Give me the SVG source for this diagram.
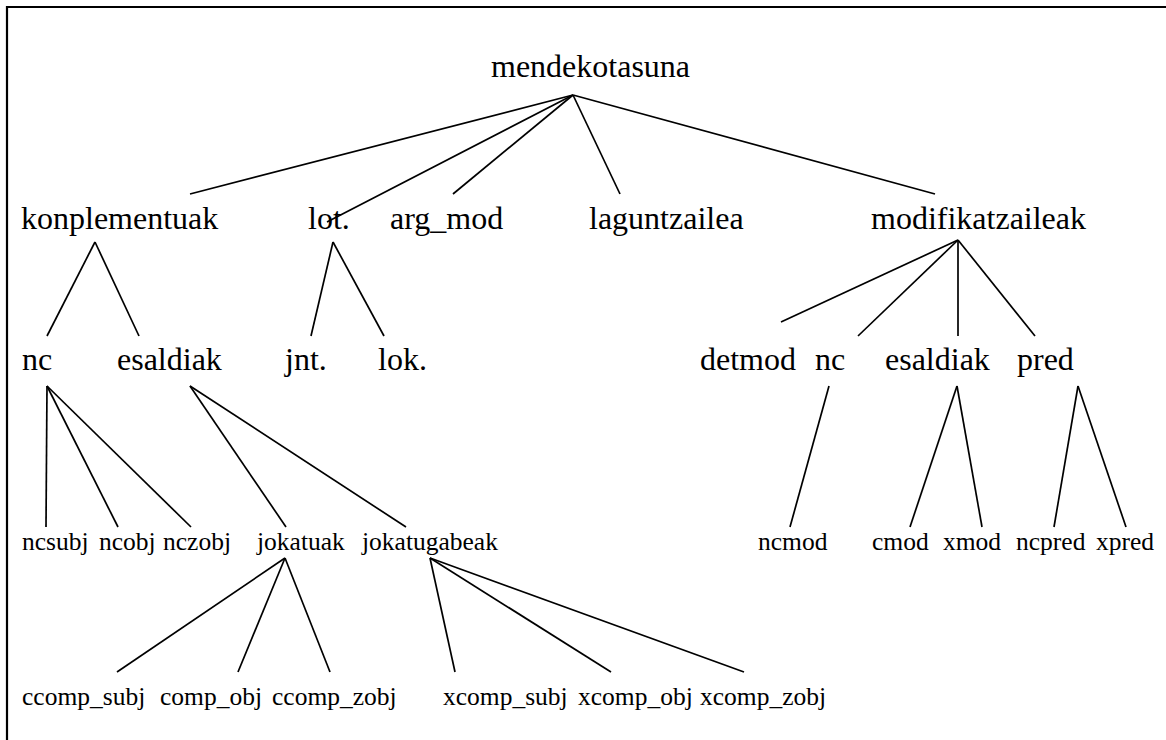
<svg xmlns="http://www.w3.org/2000/svg" width="1166" height="740" viewBox="0 0 1166 740">
<style>
text{font-family:"Liberation Serif","Times New Roman",serif;fill:#000}
.l{font-size:32px}
.s{font-size:25.5px}
#edges line{stroke:#000;stroke-width:1.7}
</style>
<rect width="1166" height="740" fill="#fff"/>
<path d="M7,740 V7 H1166" fill="none" stroke="#000" stroke-width="2.2"/>
<g id="edges">
<line x1="573" y1="95" x2="190" y2="194"/>
<line x1="573" y1="95" x2="327" y2="222"/>
<line x1="573" y1="95" x2="453" y2="194"/>
<line x1="573" y1="95" x2="620" y2="194"/>
<line x1="573" y1="95" x2="935" y2="194"/>
<line x1="95" y1="242" x2="47" y2="336"/>
<line x1="95" y1="242" x2="139" y2="336"/>
<line x1="333" y1="242" x2="311" y2="336"/>
<line x1="333" y1="242" x2="384" y2="336"/>
<line x1="958" y1="240" x2="781" y2="322"/>
<line x1="958" y1="240" x2="858" y2="336"/>
<line x1="958" y1="240" x2="958" y2="336"/>
<line x1="958" y1="240" x2="1035" y2="336"/>
<line x1="47" y1="386" x2="46" y2="527"/>
<line x1="47" y1="386" x2="118" y2="527"/>
<line x1="47" y1="386" x2="191" y2="527"/>
<line x1="190" y1="386" x2="286" y2="527"/>
<line x1="190" y1="386" x2="406" y2="527"/>
<line x1="829" y1="386" x2="790" y2="527"/>
<line x1="957" y1="386" x2="910" y2="527"/>
<line x1="957" y1="386" x2="982" y2="527"/>
<line x1="1078" y1="386" x2="1054" y2="527"/>
<line x1="1078" y1="386" x2="1126" y2="527"/>
<line x1="285" y1="558" x2="117" y2="672"/>
<line x1="285" y1="558" x2="238" y2="672"/>
<line x1="285" y1="558" x2="330" y2="672"/>
<line x1="430" y1="558" x2="455" y2="672"/>
<line x1="430" y1="558" x2="611" y2="672"/>
<line x1="430" y1="558" x2="744" y2="672"/>
</g>
<g id="n-mendekotasuna"><text class="l" x="491" y="77">mendekotasuna</text></g>
<g id="n-konplementuak"><text class="l" x="21" y="229">konplementuak</text></g>
<g id="n-lot"><text class="l" x="308" y="229">lot.</text></g>
<g id="n-arg_mod"><text class="l" x="390" y="229">arg_mod</text></g>
<g id="n-laguntzailea"><text class="l" x="589" y="229">laguntzailea</text></g>
<g id="n-modifikatzaileak"><text class="l" x="871" y="229">modifikatzaileak</text></g>
<g id="n-nc1"><text class="l" x="22" y="370">nc</text></g>
<g id="n-esaldiak1"><text class="l" x="117" y="370">esaldiak</text></g>
<g id="n-jnt"><text class="l" x="285" y="370">jnt.</text></g>
<g id="n-lok"><text class="l" x="378" y="370">lok.</text></g>
<g id="n-detmod"><text class="l" x="700" y="370">detmod</text></g>
<g id="n-nc2"><text class="l" x="815" y="370">nc</text></g>
<g id="n-esaldiak2"><text class="l" x="885" y="370">esaldiak</text></g>
<g id="n-pred"><text class="l" x="1017" y="370">pred</text></g>
<g id="n-ncsubj"><text class="s" x="22" y="550">ncsubj</text></g>
<g id="n-ncobj"><text class="s" x="99" y="550">ncobj</text></g>
<g id="n-nczobj"><text class="s" x="163" y="550">nczobj</text></g>
<g id="n-jokatuak"><text class="s" x="257" y="550">jokatuak</text></g>
<g id="n-jokatugabeak"><text class="s" x="362" y="550">jokatugabeak</text></g>
<g id="n-ncmod"><text class="s" x="758" y="550">ncmod</text></g>
<g id="n-cmod"><text class="s" x="872" y="550">cmod</text></g>
<g id="n-xmod"><text class="s" x="943" y="550">xmod</text></g>
<g id="n-ncpred"><text class="s" x="1016" y="550">ncpred</text></g>
<g id="n-xpred"><text class="s" x="1096" y="550">xpred</text></g>
<g id="n-ccomp_subj"><text class="s" x="22" y="705">ccomp_subj</text></g>
<g id="n-comp_obj"><text class="s" x="160" y="705">comp_obj</text></g>
<g id="n-ccomp_zobj"><text class="s" x="272" y="705">ccomp_zobj</text></g>
<g id="n-xcomp_subj"><text class="s" x="443" y="705">xcomp_subj</text></g>
<g id="n-xcomp_obj"><text class="s" x="578" y="705">xcomp_obj</text></g>
<g id="n-xcomp_zobj"><text class="s" x="700" y="705">xcomp_zobj</text></g>
</svg>
